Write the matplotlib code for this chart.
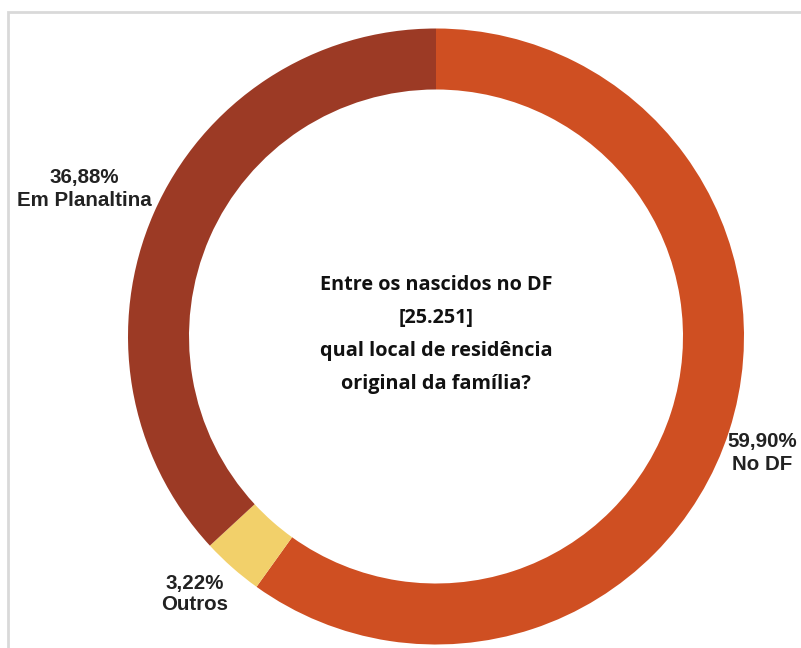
import matplotlib
matplotlib.use("Agg")
import matplotlib.pyplot as plt
from matplotlib.patches import Rectangle

# residence of origin among people born in the DF
categories = ["No DF", "Outros", "Em Planaltina"]
shares = [59.90, 3.22, 36.88]
share_labels = ["59,90%", "3,22%", "36,88%"]
colors = ["#CF4F22", "#F2D06A", "#9C3A25"]
center_lines = ["Entre os nascidos no DF", "[25.251]",
                "qual local de residência", "original da família?"]

W, H = 801, 648
fig = plt.figure(figsize=(W / 100, H / 100), dpi=100)
ax = fig.add_axes([0, 0, 1, 1])


def fy(y):
    # pixel row measured from the top -> data y
    return H - y


# light frame: only top and left edges fall inside the image
ax.add_patch(Rectangle((8, -20), W + 20, fy(12) + 20, fill=False, ec="#d9d9d9", lw=2))

cx, cy, R = 436, 336.5, 308
ax.pie(shares, colors=colors, startangle=90, counterclock=False,
       center=(cx, fy(cy)), radius=R, frame=True,
       wedgeprops=dict(width=61, linewidth=0))
ax.set_xlim(0, W)
ax.set_ylim(0, H)
ax.set_aspect("equal")
ax.axis("off")

lab_font = dict(family=["Liberation Sans", "DejaVu Sans"], fontsize=14.8,
                fontweight="bold", color="#222222", ha="center", va="center",
                linespacing=1.2)
label_pos = {"No DF": (762, 453), "Outros": (195, 594), "Em Planaltina": (84, 189)}
for cat, lab in zip(categories, share_labels):
    x, y = label_pos[cat]
    ax.text(x, fy(y), f"{lab}\n{cat}", **lab_font)

for i, line in enumerate(center_lines):
    ax.text(436, fy(285 + i * 33), line, family=["Open Sans", "DejaVu Sans"],
            fontsize=14.3, fontweight="bold", color="#111111",
            ha="center", va="center")

fig.savefig("out.png", dpi=100)
